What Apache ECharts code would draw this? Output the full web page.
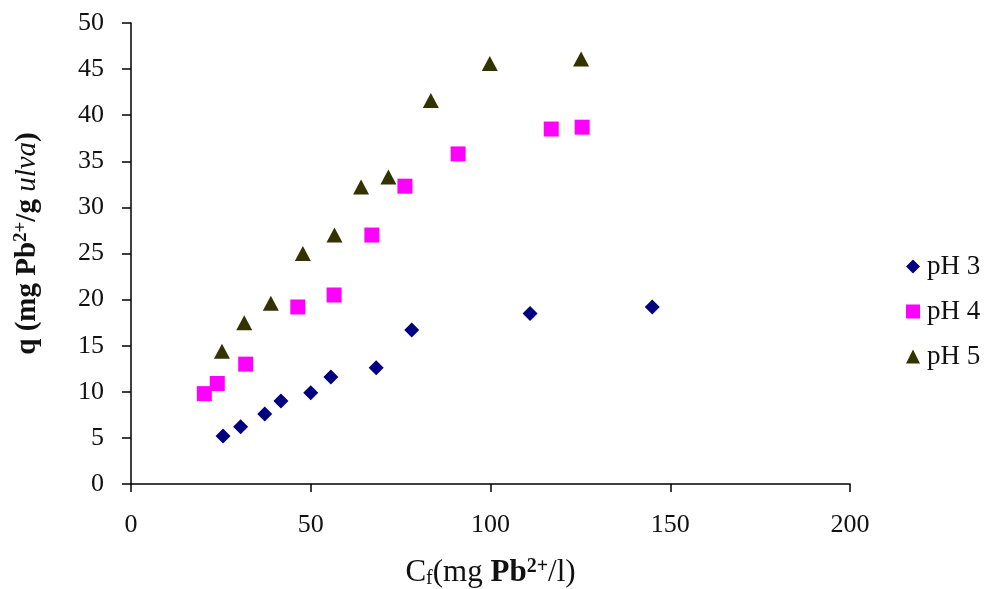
<!DOCTYPE html>
<html>
<head>
<meta charset="utf-8">
<script src="https://cdn.jsdelivr.net/npm/echarts@6/dist/echarts.min.js"></script>
<style>
  html, body { margin: 0; padding: 0; background: #fff; }
  #chart { width: 988px; height: 589px; }
</style>
</head>
<body>
<div id="chart"></div>
<script>
// Pb2+ uptake q versus final concentration Cf at three pH values
const seriesNames = ['pH 3', 'pH 4', 'pH 5'];

const ph3 = [
  [25.6, 5.2], [30.5, 6.2], [37.2, 7.6], [41.7, 9.0], [50.0, 9.9],
  [55.6, 11.6], [68.2, 12.6], [78.1, 16.7], [111.0, 18.5], [145.0, 19.2]
];
const ph4 = [
  [20.4, 9.8], [24.0, 10.9], [31.9, 13.0], [46.4, 19.2], [56.5, 20.5],
  [67.0, 27.0], [76.2, 32.3], [91.0, 35.8], [116.9, 38.5], [125.5, 38.7]
];
const ph5 = [
  [25.3, 14.4], [31.5, 17.5], [38.9, 19.6], [47.8, 25.0], [56.6, 27.0],
  [64.0, 32.2], [71.6, 33.3], [83.4, 41.6], [99.8, 45.6], [125.2, 46.1]
];

const xTicks = [0, 50, 100, 150, 200];
const yTicks = [0, 5, 10, 15, 20, 25, 30, 35, 40, 45, 50];

const serif = '"Liberation Serif", "DejaVu Serif", serif';
const ink = '#111';

const chart = echarts.init(document.getElementById('chart'), null, { renderer: 'canvas' });

chart.setOption({
  backgroundColor: '#ffffff',
  animation: false,
  grid: {
    left: 131, right: 138, top: 23, bottom: 105,
    containLabel: false,
    outerBoundsMode: 'none'
  },
  legend: {
    orient: 'vertical',
    left: 901,
    top: 248,
    itemGap: 18,
    itemWidth: 14,
    itemHeight: 14,
    textStyle: { fontFamily: serif, fontSize: 27, color: ink, padding: [0, 0, 0, 2] },
    data: seriesNames
  },
  xAxis: {
    type: 'value',
    min: xTicks[0],
    max: xTicks[xTicks.length - 1],
    interval: 50,
    splitLine: { show: false },
    axisLine: { show: true, onZero: false, lineStyle: { color: '#000', width: 1.5 } },
    axisTick: { show: true, inside: false, length: 8, lineStyle: { color: '#000', width: 1.5 } },
    axisLabel: { fontFamily: serif, fontSize: 26, color: ink, margin: 28 },
    nameLocation: 'middle',
    nameGap: 73,
    name: '{r|C}{sub|f}{r|(mg }{b|Pb}{sup|2+}{r|/l)}',
    nameTextStyle: {
      rich: {
        r: { fontFamily: serif, fontSize: 31, color: ink },
        b: { fontFamily: serif, fontSize: 31, color: ink, fontWeight: 'bold' },
        sub: { fontFamily: serif, fontSize: 20, color: ink, padding: [12, 0, 0, 0] },
        sup: { fontFamily: serif, fontSize: 20, color: ink, fontWeight: 'bold', padding: [0, 0, 12, 0] }
      }
    }
  },
  yAxis: {
    type: 'value',
    min: yTicks[0],
    max: yTicks[yTicks.length - 1],
    interval: 5,
    splitLine: { show: false },
    axisLine: { show: true, onZero: false, lineStyle: { color: '#000', width: 1.5 } },
    axisTick: { show: true, inside: false, length: 9, lineStyle: { color: '#000', width: 1.5 } },
    axisLabel: { fontFamily: serif, fontSize: 26, color: ink, margin: 27 },
    nameLocation: 'middle',
    nameGap: 88,
    nameRotate: 90,
    name: '{b|q (mg Pb}{sup|2+}{b|/g }{i|ulva}{b|)}',
    nameTextStyle: {
      padding: [0, 0, 0, 20],
      rich: {
        b: { fontFamily: serif, fontSize: 29, color: ink, fontWeight: 'bold' },
        i: { fontFamily: serif, fontSize: 29, color: ink, fontStyle: 'italic' },
        sup: { fontFamily: serif, fontSize: 19, color: ink, fontWeight: 'bold', padding: [0, 0, 12, 0] }
      }
    }
  },
  series: [
    {
      name: seriesNames[0],
      type: 'scatter',
      data: ph3,
      symbol: 'diamond',
      symbolSize: [15, 15],
      itemStyle: { color: '#000080', opacity: 1 }
    },
    {
      name: seriesNames[1],
      type: 'scatter',
      data: ph4,
      symbol: 'rect',
      symbolSize: [15, 15],
      itemStyle: { color: '#ff00ff', opacity: 1 }
    },
    {
      name: seriesNames[2],
      type: 'scatter',
      data: ph5,
      symbol: 'triangle',
      symbolSize: [16, 15],
      itemStyle: { color: '#333300', opacity: 1 }
    }
  ]
});
</script>
</body>
</html>
